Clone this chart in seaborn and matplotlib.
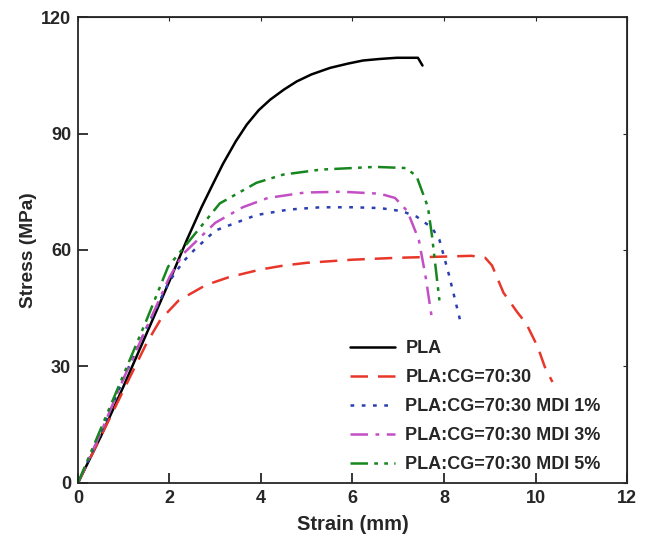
import matplotlib
matplotlib.use("Agg")
import matplotlib.pyplot as plt
import pandas as pd
import seaborn as sns

# stress-strain curves
pla_x = [0, 0.5, 1.0, 1.5, 2.0, 2.38, 2.7, 2.95, 3.17, 3.45, 3.69, 3.95, 4.2, 4.5, 4.78, 5.1, 5.51, 5.9, 6.23, 6.6, 6.97, 7.43, 7.53]
pla_y = [0, 12, 25, 38.5, 52, 62.6, 71, 77, 82.2, 88, 92.3, 96, 98.7, 101.3, 103.4, 105.2, 106.9, 108, 108.8, 109.2, 109.5, 109.5, 107.5]

cg_x = [0, 0.5, 1.0, 1.5, 1.8, 2.2, 2.8, 3.3, 4.0, 4.5, 5.0, 6.0, 7.0, 8.0, 8.6, 8.9, 9.05, 9.3, 9.6, 9.8, 10.05, 10.2, 10.37]
cg_y = [0, 12, 24, 36, 42, 47, 51, 53, 55, 56, 56.7, 57.5, 58, 58.3, 58.5, 58, 56, 49, 44, 41, 35, 30, 26]

mdi1_x = [0, 0.5, 1.0, 1.5, 2.0, 2.3, 2.54, 3.0, 3.9, 4.6, 5.3, 6.0, 6.6, 7.08, 7.4, 7.74, 7.9, 8.1, 8.35]
mdi1_y = [0, 13, 27, 40, 52, 57, 60, 65, 69, 70.4, 71, 71, 70.8, 70, 68.6, 65.7, 62.6, 54, 42]

mdi3_x = [0, 0.5, 1.0, 1.5, 2.0, 2.3, 3.0, 3.6, 4.15, 4.96, 5.77, 6.6, 6.93, 7.2, 7.45, 7.6, 7.74]
mdi3_y = [0, 13, 27, 40, 53, 59, 67, 71, 73.4, 74.8, 75, 74.5, 73.4, 70, 62.6, 53, 42]

mdi5_x = [0, 0.5, 1.0, 1.5, 1.97, 2.45, 3.1, 3.9, 4.48, 5.3, 6.5, 7.17, 7.4, 7.65, 7.74, 7.9]
mdi5_y = [0, 14, 28, 42, 55.7, 62.6, 72, 77.3, 79.4, 80.7, 81.4, 81.1, 79, 71, 63.4, 47]

labels = ["PLA", "PLA:CG=70:30", "PLA:CG=70:30 MDI 1%", "PLA:CG=70:30 MDI 3%", "PLA:CG=70:30 MDI 5%"]
colors = ["black", "#e8362a", "#2b3fb0", "#c24fc4", "#17861f"]
dashes = [(), (7, 4), (1.5, 3), (7, 3, 1.5, 3), (7, 2.5, 1.5, 2.5, 1.5, 2.5)]

x_ticks = [0, 2, 4, 6, 8, 10, 12]
y_ticks = [0, 30, 60, 90, 120]


def main():
    sns.set_style("ticks")
    plt.rcParams["font.family"] = ["Liberation Sans", "DejaVu Sans"]
    plt.rcParams["font.weight"] = "bold"

    curves = [(pla_x, pla_y), (cg_x, cg_y), (mdi1_x, mdi1_y), (mdi3_x, mdi3_y), (mdi5_x, mdi5_y)]
    frames = []
    for label, (xs, ys) in zip(labels, curves):
        frames.append(pd.DataFrame({"strain": xs, "stress": ys, "sample": label}))
    df = pd.concat(frames, ignore_index=True)

    fig, ax = plt.subplots(figsize=(6.46, 5.4), dpi=100)
    fig.subplots_adjust(left=0.1207, right=0.9706, bottom=0.1056, top=0.9685)

    sns.lineplot(
        data=df, x="strain", y="stress", hue="sample", style="sample",
        hue_order=labels, style_order=labels,
        palette=colors, dashes=dashes, sort=False, estimator=None,
        linewidth=1.8, ax=ax,
    )

    ax.set_xlim(0, 12)
    ax.set_ylim(0, 120)
    ax.set_xticks(x_ticks)
    ax.set_yticks(y_ticks)
    ax.set_xlabel("Strain (mm)", fontsize=14.5, fontweight="bold", labelpad=6)
    ax.set_ylabel("Stress (MPa)", fontsize=13.8, fontweight="bold", labelpad=3)
    ax.tick_params(direction="in", length=7, width=1.3, labelsize=13, pad=5)
    for lab in ax.get_xticklabels() + ax.get_yticklabels():
        lab.set_fontweight("bold")
    for sp in ax.spines.values():
        sp.set_linewidth(1.3)
        sp.set_visible(True)

    # short mirrored ticks on top and right
    top = ax.secondary_xaxis("top")
    top.set_xticks(x_ticks)
    top.tick_params(direction="in", length=3, labeltop=False)
    right = ax.secondary_yaxis("right")
    right.set_yticks(y_ticks)
    right.tick_params(direction="in", length=3, labelright=False)

    leg = ax.legend(
        loc="lower right", bbox_to_anchor=(0.985, -0.017), frameon=False,
        prop={"size": 13, "weight": "bold"}, handlelength=2.5,
        handletextpad=0.55, labelspacing=0.66, borderaxespad=0.6,
    )
    for line in leg.get_lines():
        line.set_linewidth(1.8)

    fig.savefig("out.png", dpi=100)


if __name__ == "__main__":
    main()
